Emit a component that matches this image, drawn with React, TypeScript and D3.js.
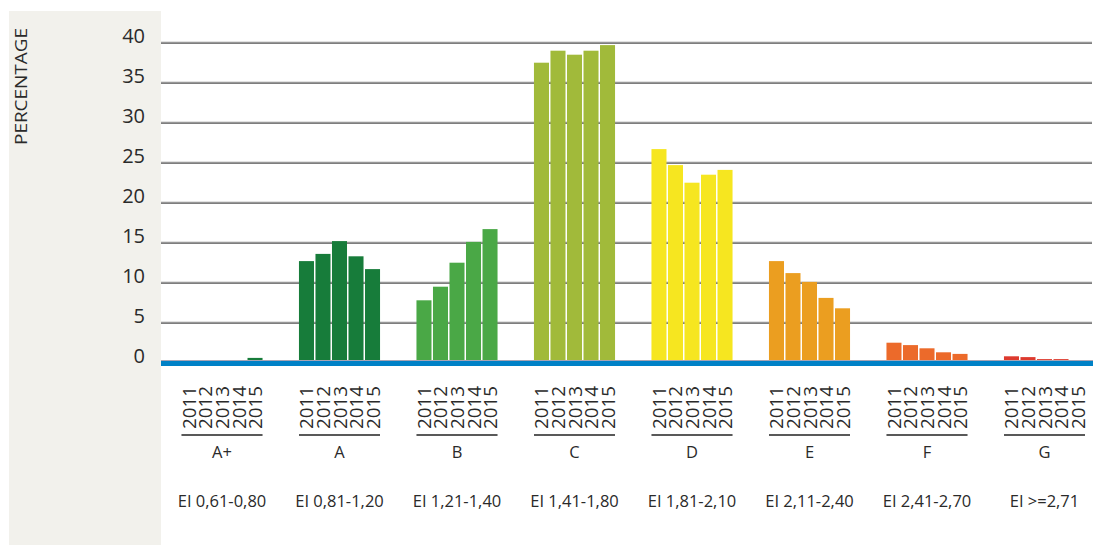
import React from "react";
import * as d3 from "d3";

// Energy-label classes, their EI ranges and yearly shares (%)
const categories = ["A+", "A", "B", "C", "D", "E", "F", "G"];
const ranges = [
  "EI 0,61-0,80",
  "EI 0,81-1,20",
  "EI 1,21-1,40",
  "EI 1,41-1,80",
  "EI 1,81-2,10",
  "EI 2,11-2,40",
  "EI 2,41-2,70",
  "EI >=2,71",
];
const years = ["2011", "2012", "2013", "2014", "2015"];
const valuesAPlus = [0, 0, 0, 0, 0.6];
const valuesA = [12.7, 13.6, 15.2, 13.3, 11.7];
const valuesB = [7.8, 9.5, 12.5, 15.1, 16.7];
const valuesC = [37.5, 39.0, 38.5, 39.0, 39.7];
const valuesD = [26.7, 24.7, 22.5, 23.5, 24.1];
const valuesE = [12.7, 11.2, 10.1, 8.1, 6.8];
const valuesF = [2.5, 2.2, 1.8, 1.3, 1.1];
const valuesG = [0.8, 0.7, 0.45, 0.45, 0.3];
const yTicks = [0, 5, 10, 15, 20, 25, 30, 35, 40];

const seriesByCategory = [valuesAPlus, valuesA, valuesB, valuesC, valuesD, valuesE, valuesF, valuesG];
const colors = ["#177c3a", "#177c3a", "#4aa846", "#a1ba3a", "#f6e620", "#eb9e20", "#ec6a2a", "#dd3a2e"];

const W = 1093;
const H = 545;
const plotLeft = 161;
const plotRight = 1092;
const font = "'Open Sans', 'Noto Sans', sans-serif";
const textColor = "#2a2a2a";

export default function App() {
  const y = d3.scaleLinear().domain([0, 40]).range([362.7, 42.7]);
  const x = d3
    .scaleBand<string>()
    .domain(categories)
    .range([163.25, 1103.25])
    .paddingInner(0.31)
    .paddingOuter(0.155);
  const xYear = d3
    .scaleBand<string>()
    .domain(years)
    .range([0, x.bandwidth()])
    .paddingInner(0.09)
    .paddingOuter(0);

  return (
    <svg
      width={W}
      height={H}
      style={{ position: "absolute", left: 0, top: 0, background: "#fff" }}
      fontFamily={font}
    >
      {/* axis panel */}
      <rect x={9} y={11} width={plotLeft - 9} height={H - 11} fill="#f2f1ec" />
      <text
        transform="translate(27,145) rotate(-90)"
        fontSize={17}
        textLength={117}
        lengthAdjust="spacingAndGlyphs"
        fill={textColor}
      >
        PERCENTAGE
      </text>

      {/* y tick labels */}
      {yTicks.map((t) => (
        <text key={"yl" + t} x={145} y={y(t)} textAnchor="end" fontSize={20} fill={textColor}>
          {t}
        </text>
      ))}

      {/* gridlines */}
      {yTicks
        .filter((t) => t > 0)
        .map((t) => (
          <g key={"g" + t}>
            <line x1={plotLeft} x2={plotRight} y1={y(t) - 0.5} y2={y(t) - 0.5} stroke="#a0a0a0" strokeWidth={1} />
            <line x1={plotLeft} x2={plotRight} y1={y(t) + 0.5} y2={y(t) + 0.5} stroke="#454545" strokeWidth={1} />
          </g>
        ))}

      {/* bars */}
      {categories.map((c, ci) => (
        <g key={"bars" + c} transform={`translate(${x(c)},0)`}>
          {seriesByCategory[ci].map((v, yi) =>
            v > 0 ? (
              <rect
                key={years[yi]}
                x={xYear(years[yi])}
                y={y(v)}
                width={xYear.bandwidth()}
                height={y(0) - y(v) + 2}
                fill={colors[ci]}
              />
            ) : null
          )}
        </g>
      ))}

      {/* baseline */}
      <line x1={plotLeft} x2={W} y1={360.5} y2={360.5} stroke="#a7a4b4" strokeWidth={1} />
      <rect x={plotLeft} y={361} width={W - plotLeft} height={5} fill="#0081c6" />

      {/* category axis */}
      {categories.map((c, ci) => {
        const x0 = x(c) as number;
        const cx = x0 + x.bandwidth() / 2;
        return (
          <g key={"ax" + c}>
            {years.map((yr) => {
              const bx = x0 + (xYear(yr) as number) + xYear.bandwidth() / 2;
              return (
                <text
                  key={yr}
                  transform={`translate(${bx + 7},429) rotate(-90)`}
                  fontSize={19}
                  textLength={43}
                  lengthAdjust="spacingAndGlyphs"
                  fill={textColor}
                >
                  {yr}
                </text>
              );
            })}
            <line x1={x0} x2={x0 + x.bandwidth()} y1={435} y2={435} stroke="#222" strokeWidth={1.3} />
            <text x={cx} y={458} textAnchor="middle" fontSize={16.5} fill={textColor}>
              {c}
            </text>
            <text x={cx} y={506.5} textAnchor="middle" fontSize={16.5} fill={textColor}>
              {ranges[ci]}
            </text>
          </g>
        );
      })}
    </svg>
  );
}
